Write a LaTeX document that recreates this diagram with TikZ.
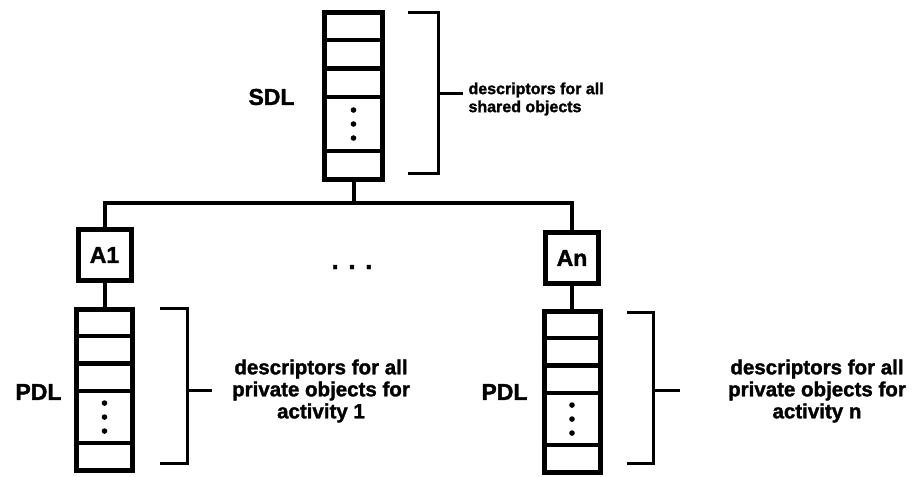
\documentclass[tikz,border=0pt]{standalone}
\usepackage{fontspec}
\setmainfont{Liberation Sans}[BoldFeatures={FakeBold=1.5}]
\usetikzlibrary{calc}

\tikzset{
  stack/.style={draw,line width=5pt,minimum width=56pt,minimum height=161pt,inner sep=0pt},
  actbox/.style={draw,line width=5pt,minimum width=53pt,minimum height=51pt,inner sep=0pt,
    font=\fontsize{23}{25}\selectfont\bfseries},
  lbl/.style={font=\fontsize{23}{25}\selectfont\bfseries},
  desc/.style={font=\fontsize{20.5}{22}\selectfont\bfseries,align=center},
  brk/.style={line width=3pt},
  bus/.style={line width=4pt},
}

% rows and dots inside a descriptor list
\newcommand{\stackrows}[1]{%
  \foreach \f in {0.175,0.34,0.506,0.82}
    \draw[line width=4.5pt] ($(#1.north west)!\f!(#1.south west)$) -- ($(#1.north east)!\f!(#1.south east)$);
  \foreach \d in {-14,0,14}
    \fill ($(#1.north)!0.663!(#1.south)$) ++(0,\d) circle (2.8pt);
}

\begin{document}
\begin{tikzpicture}[x=1pt,y=-1pt]
\fill[white] (0,0) rectangle (914,477);
\useasboundingbox (0,0) rectangle (914,477);

\node[stack,minimum width=58pt,minimum height=167pt] (sdl) at (353.5,96) {};
\node[stack] (pdla) at (104.5,390) {};
\node[stack] (pdln) at (572,392) {};
\stackrows{sdl}
\stackrows{pdla}
\stackrows{pdln}

\node[actbox] (aone) at (104.5,255) {A1};
\node[actbox] (an) at (572,258) {An};

\node[lbl,anchor=east] (sdllbl) at (298,97) {SDL};
\node[lbl,anchor=east] (pdllbla) at (65,392) {PDL};
\node[lbl,anchor=east] (pdllbln) at (531,392) {PDL};

\coordinate (busline) at (0,203);
\draw[bus] (sdl.south) -- (sdl.south |- busline);
\draw[bus] (aone.north) -- (aone.north |- busline) -- (an.north |- busline) -- (an.north);
\draw[bus] (aone.south) -- (pdla.north);
\draw[bus] (an.south) -- (pdln.north);

\node[font=\fontsize{26}{26}\selectfont\bfseries,anchor=base] (gap) at (352,269) {. . .};

% brackets
\draw[brk] (408,12) -- (438,12) -- (438,173) -- (408,173);
\draw[brk] (438,93) -- (463,93);
\draw[brk] (160,308) -- (187,308) -- (187,463) -- (160,463);
\draw[brk] (187,390) -- (212,390);
\draw[brk] (627,312) -- (653,312) -- (653,463) -- (627,463);
\draw[brk] (653,390) -- (680,390);

\node[anchor=west,font=\fontsize{16}{18}\selectfont\bfseries,align=left] (sdldesc) at (465,99)
  {descriptors for all\\shared objects};
\node[desc] (pdladesc) at (321,391) {descriptors for all\\private objects for\\activity 1};
\node[desc] (pdlndesc) at (817,391) {descriptors for all\\private objects for\\activity n};
\end{tikzpicture}
\end{document}
